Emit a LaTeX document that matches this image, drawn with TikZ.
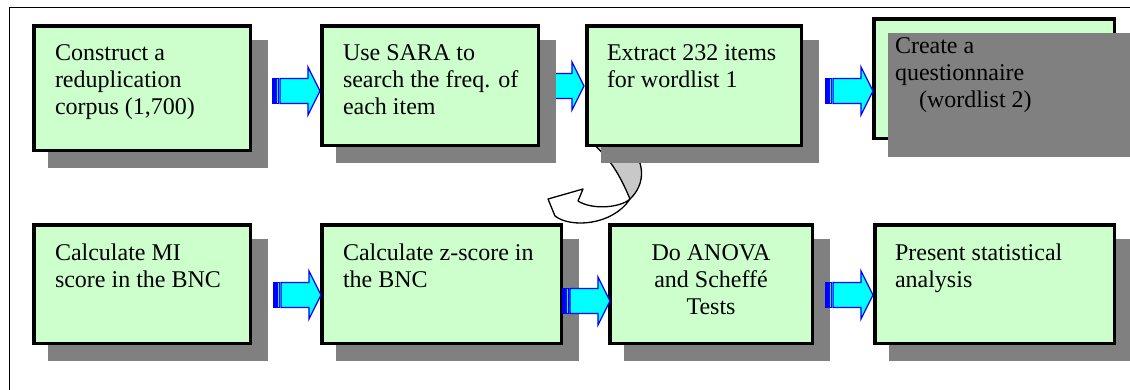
\documentclass[tikz,border=0pt]{standalone}
\usepackage{fontspec}
\setmainfont{Liberation Serif}
\definecolor{boxgreen}{HTML}{CCFFCC}
\definecolor{shadowc}{HTML}{808080}
\definecolor{arrowfill}{HTML}{00FFFF}
\definecolor{arrowline}{HTML}{0000FF}
\definecolor{backface}{HTML}{C8C8C8}
\tikzset{
  boxst/.style={draw=black, fill=boxgreen, line width=3.5pt, inner sep=0pt, outer sep=0pt},
  txt/.style={font=\fontsize{24}{27}\selectfont, align=left, inner sep=0pt, outer sep=0pt},
  txtc/.style={font=\fontsize{24}{27}\selectfont, align=center, inner sep=0pt, outer sep=0pt},
  arrowst/.style={fill=arrowfill, draw=arrowline, line width=1.2pt, line join=miter},
  curvest/.style={draw=black, line width=1.3pt, line join=round},
  stripearrow/.pic={
    \filldraw[arrowst] (-47,-12.5) rectangle (-45,12.5);
    \filldraw[arrowst] (-43.5,-12.5) rectangle (-41.5,12.5);
    \filldraw[arrowst] (-40,-12.5) -- (-12,-12.5) -- (-12,-24) -- (0,0) -- (-12,24) -- (-12,12.5) -- (-40,12.5) -- cycle;
  }
}
% name, x1, y1, x2, y2 (outer edges of the box, in px)
\newcommand\flowbox[5]{%
  \fill[shadowc] (#2+16,#3+16) rectangle (#4+16,#5+16);
  \node[boxst, minimum width={#4-#2-3.5}, minimum height={#5-#3-3.5}, anchor=north west] (#1) at (#2+1.75,#3+1.75) {};
}
\begin{document}
\begin{tikzpicture}[x=1pt,y=-1pt]
\useasboundingbox (0,0) rectangle (1130,389);
\clip (0,0) rectangle (1130,389);
% outer frame
\draw[line width=1.3pt] (9.5,7.5) rectangle (1150,410);
% arrow tips
\coordinate (a1) at (320,91);
\coordinate (a2) at (584,86);
\coordinate (a3) at (873,91);
\coordinate (a4) at (321,295);
\coordinate (a5) at (610,301);
\coordinate (a6) at (873,295);
% arrow 2 lies behind box 2
\pic at (a2) {stripearrow};
% curved arrow from box 3 down towards row 2
\filldraw[curvest, fill=backface] (630,199) .. controls (621,178) and (612,160) .. (592,143) -- (626,143) .. controls (646,160) and (646,184) .. (630,199) -- cycle;
\filldraw[curvest, fill=white] (630,199) .. controls (620,208) and (592,210) .. (578,201) -- (583,189) -- (548,199) -- (555,216) .. controls (570,228) and (612,226) .. (630,199) -- cycle;
% boxes
\flowbox{b1}{32}{24}{252}{152}
\flowbox{b2}{320}{24}{540}{147}
\flowbox{b3}{585}{24}{803}{147}
\flowbox{b5}{32}{223}{252}{345}
\flowbox{b6}{320}{223}{563}{345}
\flowbox{b7}{608}{223}{814}{345}
\flowbox{b8}{873}{223}{1116}{345}
% box 4: its shadow lies on top of it
\node[boxst, minimum width=240.5, minimum height=119.5, anchor=north west] (b4) at (873.75,18.75) {};
\fill[shadowc] (888,33) rectangle (1132,157);
% arrows
\pic at (a1) {stripearrow};
\pic at (a3) {stripearrow};
\pic at (a4) {stripearrow};
\pic at (a5) {stripearrow};
\pic at (a6) {stripearrow};
% texts (base anchor = baseline of the last line)
\node[txt, anchor=base west] (t1) at (55,114) {Construct a\\reduplication\\corpus (1,700)};
\node[txt, anchor=base west] (t2) at (343,114) {Use SARA to\\search the freq. of\\each item};
\node[txt, anchor=base west] (t3) at (607,87) {Extract 232 items\\for wordlist 1};
\node[txt, anchor=base west] (t4) at (895,107) {Create a\\questionnaire\\\hspace*{24pt}(wordlist 2)};
\node[txt, anchor=base west] (t5) at (55,287) {Calculate MI\\score in the BNC};
\node[txt, anchor=base west] (t6) at (343,287) {Calculate z-score in\\the BNC};
\node[txtc, anchor=base] (t7) at (711,314) {Do ANOVA\\and Scheffé\\Tests};
\node[txt, anchor=base west] (t8) at (895,287) {Present statistical\\analysis};
\end{tikzpicture}
\end{document}
